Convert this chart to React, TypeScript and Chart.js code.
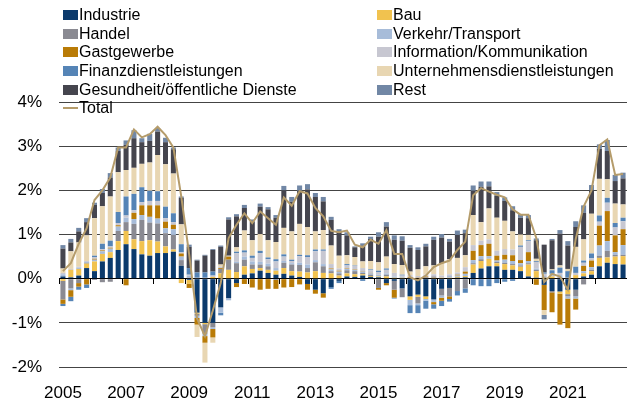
import React, { useEffect, useRef } from 'react';
import { Chart, registerables } from 'chart.js';

Chart.register(...registerables);

const quarters = [
  '2005Q1','2005Q2','2005Q3','2005Q4','2006Q1','2006Q2','2006Q3','2006Q4',
  '2007Q1','2007Q2','2007Q3','2007Q4','2008Q1','2008Q2','2008Q3','2008Q4',
  '2009Q1','2009Q2','2009Q3','2009Q4','2010Q1','2010Q2','2010Q3','2010Q4',
  '2011Q1','2011Q2','2011Q3','2011Q4','2012Q1','2012Q2','2012Q3','2012Q4',
  '2013Q1','2013Q2','2013Q3','2013Q4','2014Q1','2014Q2','2014Q3','2014Q4',
  '2015Q1','2015Q2','2015Q3','2015Q4','2016Q1','2016Q2','2016Q3','2016Q4',
  '2017Q1','2017Q2','2017Q3','2017Q4','2018Q1','2018Q2','2018Q3','2018Q4',
  '2019Q1','2019Q2','2019Q3','2019Q4','2020Q1','2020Q2','2020Q3','2020Q4',
  '2021Q1','2021Q2','2021Q3','2021Q4','2022Q1','2022Q2','2022Q3','2022Q4',
];

const yearLabels = ['2005', '2007', '2009', '2011', '2013', '2015', '2017', '2019', '2021'];
const yTicks = [-2, -1, 0, 1, 2, 3, 4];

const industrie = [
  0.05, 0.03, 0.07, 0.24, 0.17, 0.39, 0.47, 0.65, 0.78, 0.67,
  0.55, 0.52, 0.58, 0.58, 0.61, 0.29, -0.03, -0.77, -1.00, -1.00,
  -0.65, -0.44, -0.10, 0.09, 0.12, 0.18, 0.13, 0.09, 0.11, 0.07,
  0.04, -0.12, -0.25, -0.33, -0.19, -0.05, 0.05, 0.04, 0.07, 0.04,
  0.03, -0.10, -0.05, -0.22, -0.40, -0.36, -0.40, -0.47, -0.23, -0.21,
  0.02, 0.03, 0.13, 0.23, 0.28, 0.28, 0.20, 0.20, 0.17, 0.05,
  0.02, -0.14, -0.28, -0.29, -0.25, -0.25, 0.05, 0.09, 0.28, 0.36,
  0.33, 0.32,
];
const bau = [
  -0.05, 0.17, 0.15, 0.10, 0.22, 0.17, 0.13, 0.20, 0.30, 0.22,
  0.30, 0.35, 0.26, 0.15, 0.05, -0.10, -0.08, -0.02, -0.03, 0.04,
  0.12, 0.20, 0.15, 0.19, 0.10, 0.06, 0.07, 0.09, 0.13, 0.10,
  0.12, 0.14, 0.17, 0.13, 0.12, 0.07, 0.07, 0.06, 0.03, 0.02,
  0.02, 0.05, 0.02, 0.02, -0.08, -0.05, -0.06, 0.02, 0.02, 0.02,
  0.02, 0.03, 0.19, 0.17, 0.17, 0.07, 0.13, 0.10, 0.10, 0.27,
  0.15, 0.02, 0.05, -0.05, -0.10, 0.08, 0.07, 0.08, 0.19, 0.12,
  0.17, 0.19,
];
const handel = [
  -0.42, -0.22, -0.10, 0.02, -0.03, -0.08, -0.07, 0.23, 0.20, 0.35,
  0.48, 0.40, 0.41, 0.30, 0.33, 0.13, 0.02, -0.05, -0.22, -0.10,
  0.10, 0.23, 0.20, 0.15, 0.10, 0.08, 0.08, -0.03, 0.12, 0.15,
  0.15, 0.10, 0.20, 0.15, 0.05, 0.05, 0.07, 0.07, 0.03, 0.03,
  -0.21, 0.04, -0.20, -0.20, 0.02, -0.15, 0.03, 0.03, -0.15, -0.19,
  -0.28, -0.22, 0.03, 0.04, 0.00, 0.03, 0.03, 0.03, 0.03, 0.03,
  0.03, 0.02, -0.03, 0.03, -0.05, -0.15, -0.13, 0.03, 0.05, 0.15,
  0.04, 0.03,
];
const verkehr = [
  0.05, -0.04, 0.03, 0.02, 0.04, 0.06, 0.08, 0.10, 0.10, 0.11,
  0.11, 0.13, 0.11, 0.11, 0.13, 0.08, 0.05, -0.05, -0.05, -0.04,
  -0.12, -0.05, 0.03, 0.07, 0.07, 0.06, 0.06, 0.06, 0.04, 0.03,
  0.05, 0.08, 0.05, 0.05, 0.04, 0.04, 0.03, 0.03, 0.03, 0.03,
  0.04, 0.03, 0.03, 0.02, -0.12, -0.04, -0.04, -0.06, -0.05, 0.04,
  0.03, 0.05, 0.07, 0.07, 0.06, 0.03, 0.07, 0.07, 0.05, 0.05,
  0.03, 0.02, 0.03, 0.05, -0.05, -0.05, 0.05, 0.06, 0.23, 0.22,
  0.06, 0.22,
];
const gastgewerbe = [
  -0.10, -0.15, -0.08, -0.13, 0.02, 0.02, 0.02, 0.03, -0.15, 0.14,
  0.22, 0.26, 0.30, 0.15, 0.10, 0.07, -0.10, -0.15, -0.15, -0.19,
  0.02, 0.07, -0.09, -0.12, -0.20, -0.25, -0.23, -0.20, -0.20, -0.19,
  -0.13, -0.13, -0.09, -0.10, 0.02, 0.02, 0.01, 0.01, 0.01, 0.01,
  -0.04, -0.05, -0.18, 0.00, 0.02, 0.02, 0.02, -0.05, -0.07, -0.06,
  0.02, 0.05, 0.21, 0.25, 0.28, 0.11, 0.11, 0.13, 0.07, 0.20,
  -0.14, -0.57, -0.45, -0.70, -0.67, -0.25, 0.12, 0.15, 0.45, 0.68,
  0.38, 0.36,
];
const information = [
  0.03, 0.02, 0.02, 0.02, 0.04, 0.03, 0.03, 0.05, 0.05, 0.06,
  0.07, 0.10, 0.10, 0.08, 0.06, 0.03, 0.02, 0.02, 0.02, 0.03,
  0.03, 0.02, 0.20, 0.09, 0.08, 0.20, 0.10, 0.15, 0.10, 0.05,
  0.15, 0.17, 0.20, 0.30, 0.10, 0.05, 0.07, 0.08, 0.07, 0.06,
  0.06, 0.08, 0.08, 0.03, 0.04, 0.04, 0.04, 0.05, 0.05, 0.04,
  0.05, 0.10, 0.13, 0.10, 0.10, 0.11, 0.13, 0.13, 0.30, 0.25,
  0.15, 0.05, 0.03, 0.05, 0.02, 0.05, 0.07, 0.05, 0.09, 0.19,
  0.18, 0.18,
];
const finanz = [
  -0.05, -0.10, -0.07, -0.08, 0.03, 0.12, 0.13, 0.25, 0.43, 0.37,
  0.34, 0.23, 0.22, 0.26, 0.20, 0.18, 0.15, 0.12, 0.12, 0.09,
  -0.06, 0.00, 0.03, 0.05, 0.05, 0.05, 0.04, 0.05, 0.05, 0.03,
  0.03, 0.04, 0.04, 0.03, -0.04, -0.05, 0.03, 0.01, -0.05, 0.02,
  0.03, 0.03, -0.02, 0.02, -0.18, -0.18, -0.18, -0.10, -0.12, -0.06,
  -0.10, -0.10, -0.15, -0.17, -0.17, -0.10, -0.07, -0.05, 0.03, 0.02,
  0.02, 0.03, 0.08, 0.12, 0.15, 0.14, 0.05, 0.11, 0.14, 0.11,
  0.10, 0.08,
];
const unternehmen = [
  0.10, 0.40, 0.55, 0.58, 0.85, 0.85, 1.00, 0.90, 0.60, 0.59,
  0.53, 0.64, 0.82, 0.96, 0.90, 0.45, 0.00, -0.28, -0.45, -0.12,
  0.05, 0.00, 0.10, 0.45, 0.35, 0.38, 0.39, 0.39, 0.60, 0.64,
  0.70, 0.64, 0.41, 0.44, 0.42, 0.29, 0.20, 0.19, 0.15, 0.19,
  0.19, 0.27, 0.20, 0.22, 0.08, 0.15, 0.19, 0.20, 0.28, 0.34,
  0.33, 0.27, 0.68, 0.42, 0.70, 0.75, 0.64, 0.41, 0.25, 0.12,
  0.05, -0.11, 0.02, 0.05, 0.05, 0.45, 0.48, 0.90, 0.83, 0.42,
  0.44, 0.30,
];
const gesundheit = [
  0.45, 0.20, 0.25, 0.30, 0.30, 0.30, 0.43, 0.48, 0.57, 0.67,
  0.49, 0.49, 0.53, 0.50, 0.55, 0.60, 0.48, 0.27, 0.38, 0.49,
  0.40, 0.82, 0.70, 0.51, 0.42, 0.62, 0.70, 0.55, 0.85, 0.67,
  0.75, 0.85, 0.78, 0.65, 0.58, 0.55, 0.45, 0.22, 0.36, 0.50,
  0.58, 0.68, 0.55, 0.55, 0.54, 0.44, 0.45, 0.58, 0.58, 0.40,
  0.52, 0.50, 0.55, 0.80, 0.50, 0.50, 0.45, 0.48, 0.38, 0.38,
  0.42, 0.63, 0.66, 0.72, 0.53, 0.45, 0.60, 0.53, 0.68, 0.64,
  0.51, 0.59,
];
const rest = [
  0.08, 0.08, 0.08, 0.09, 0.05, 0.09, 0.10, 0.08, 0.10, 0.18,
  0.09, 0.16, 0.08, 0.10, 0.04, 0.03, 0.05, 0.02, 0.02, 0.02,
  0.03, 0.05, 0.05, 0.07, 0.05, 0.07, 0.05, 0.06, 0.10, 0.11,
  0.12, 0.12, 0.09, 0.10, 0.07, 0.05, 0.07, 0.02, 0.05, 0.05,
  0.10, 0.10, 0.10, 0.10, 0.06, 0.06, 0.06, 0.07, 0.08, 0.06,
  0.10, 0.08, 0.12, 0.12, 0.11, 0.08, 0.08, 0.09, 0.08, 0.07,
  0.04, -0.10, 0.03, 0.08, 0.10, 0.13, 0.17, 0.12, 0.10, 0.25,
  0.14, 0.13,
];
const total = [
  0.17, 0.35, 0.79, 1.14, 1.78, 2.0, 2.29, 2.97, 2.97, 3.38,
  3.2, 3.27, 3.44, 3.25, 2.97, 1.86, 0.55, -0.9, -1.3, -0.72,
  -0.1, 0.92, 1.22, 1.48, 1.26, 1.52, 1.37, 1.22, 1.84, 1.65,
  1.98, 1.93, 1.6, 1.41, 1.08, 1.05, 1.09, 0.77, 0.71, 0.88,
  0.79, 1.1, 0.56, 0.56, 0.03, -0.04, 0.07, 0.26, 0.35, 0.41,
  0.65, 0.84, 1.89, 2.05, 1.97, 1.9, 1.84, 1.57, 1.45, 1.45,
  0.92, -0.08, 0.11, 0.05, -0.25, 0.9, 1.63, 2.0, 3.02, 3.15,
  2.35, 2.37,
];

const SERIES = [
  { label: 'Industrie', data: industrie, color: '#0b3a6c' },
  { label: 'Bau', data: bau, color: '#f1c24f' },
  { label: 'Handel', data: handel, color: '#8a8a92' },
  { label: 'Verkehr/Transport', data: verkehr, color: '#a7bcd9' },
  { label: 'Gastgewerbe', data: gastgewerbe, color: '#b97b06' },
  { label: 'Information/Kommunikation', data: information, color: '#c7c7d1' },
  { label: 'Finanzdienstleistungen', data: finanz, color: '#5584b6' },
  { label: 'Unternehmensdienstleistungen', data: unternehmen, color: '#e8d6b2' },
  { label: 'Gesundheit/öffentliche Dienste', data: gesundheit, color: '#45454e' },
  { label: 'Rest', data: rest, color: '#7187a5' },
];
const TOTAL_COLOR = '#b59c6b';
const FONT = "'Liberation Sans', Arial, Helvetica, sans-serif";

export default function App() {
  const ref = useRef<HTMLCanvasElement>(null);

  useEffect(() => {
    const canvas = ref.current;
    if (!canvas) return;
    const chart = new Chart(canvas, {
      type: 'bar',
      data: {
        labels: quarters,
        datasets: [
          ...SERIES.map((s) => ({
            type: 'bar' as const,
            label: s.label,
            data: s.data,
            backgroundColor: s.color,
            borderWidth: 0,
            barPercentage: 0.64,
            categoryPercentage: 1,
            order: 1,
          })),
          {
            type: 'line' as const,
            label: 'Total',
            data: total,
            borderColor: TOTAL_COLOR,
            borderWidth: 2,
            pointRadius: 0,
            fill: false,
            tension: 0,
            order: 0,
          },
        ],
      } as any,
      options: {
        animation: false,
        responsive: false,
        maintainAspectRatio: false,
        layout: { padding: { top: 102, left: 0, right: 11, bottom: 0 } },
        plugins: { legend: { display: false }, tooltip: { enabled: false } },
        font: { family: FONT },
        scales: {
          x: {
            type: 'category',
            stacked: true,
            offset: true,
            grid: { display: false },
            border: { display: false },
            ticks: {
              autoSkip: false,
              maxRotation: 0,
              minRotation: 0,
              padding: 8,
              color: '#000',
              font: { family: FONT, size: 17 },
              callback: (_v: any, i: number) => {
                const q = quarters[i];
                const y = q.slice(0, 4);
                return q.endsWith('Q1') && yearLabels.includes(y) ? y : '';
              },
            },
            afterFit: (s: any) => {
              s.height = 34;
            },
          },
          x2: {
            type: 'category',
            axis: 'x',
            position: { y: 0 },
            offset: true,
            grid: {
              offset: true,
              drawOnChartArea: false,
              drawTicks: true,
              tickLength: 5,
              lineWidth: 1,
              color: (c: any) => (c.index % 4 === 0 ? '#000' : 'rgba(0,0,0,0)'),
            },
            border: { display: false },
            ticks: { display: false, autoSkip: false },
          },
          y: {
            stacked: true,
            min: -2,
            max: 4,
            afterBuildTicks: (s: any) => {
              s.ticks = yTicks.map((v) => ({ value: v }));
            },
            ticks: {
              padding: 17,
              color: '#000',
              font: { family: FONT, size: 17 },
              callback: (v: any) => `${v}%`,
            },
            grid: {
              drawTicks: false,
              lineWidth: 1,
              color: (c: any) => (c.tick && c.tick.value === 0 ? '#000' : '#444'),
            },
            border: { display: false },
            afterFit: (s: any) => {
              s.width = 59;
            },
          },
        },
      } as any,
    });
    return () => chart.destroy();
  }, []);

  const rowCenters = [15, 33.5, 52, 70.5, 89.5, 108];
  const colLeft = [63, 377];

  const legendItems = SERIES.map((s, i) => ({
    label: s.label,
    color: s.color,
    col: i % 2,
    row: Math.floor(i / 2),
    line: false,
  }));
  legendItems.push({ label: 'Total', color: TOTAL_COLOR, col: 0, row: 5, line: true });

  return (
    <div
      style={{
        position: 'fixed',
        left: 0,
        top: 0,
        width: 638,
        height: 401,
        background: '#fff',
        overflow: 'hidden',
      }}
    >
      <canvas ref={ref} width={638} height={401} style={{ width: 638, height: 401, display: 'block' }} />
      {legendItems.map((it) => (
        <div
          key={it.label}
          style={{
            position: 'absolute',
            left: colLeft[it.col],
            top: rowCenters[it.row] - 10,
            height: 20,
            display: 'flex',
            alignItems: 'center',
            fontFamily: FONT,
            fontSize: 16,
            lineHeight: '20px',
            color: '#000',
            whiteSpace: 'nowrap',
          }}
        >
          <span
            style={{
              display: 'inline-block',
              width: 15,
              height: it.line ? 2 : 10,
              background: it.color,
              marginRight: 1,
            }}
          />
          <span>{it.label}</span>
        </div>
      ))}
    </div>
  );
}
